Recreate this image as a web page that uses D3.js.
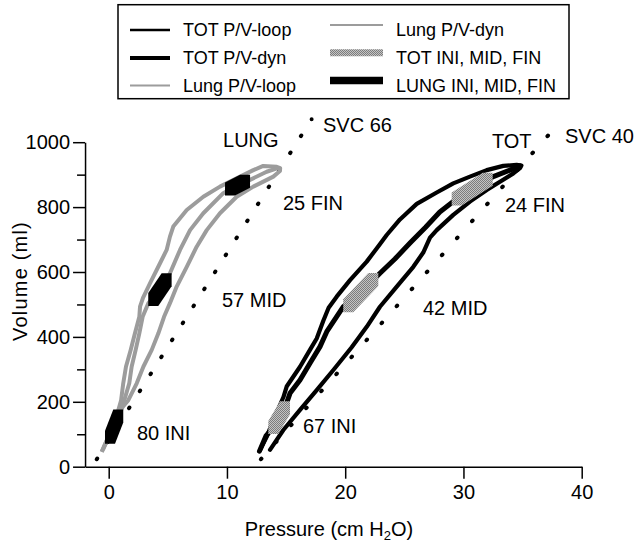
<!DOCTYPE html>
<html><head><meta charset="utf-8">
<script src="https://cdn.jsdelivr.net/npm/d3@7"></script>
<style>
body{margin:0;background:#fff;}
svg{display:block;font-family:"Liberation Sans",Arial,Helvetica,sans-serif;}
</style></head><body>
<svg id="chart" width="637" height="545"></svg>
<script>
// ---------- data ----------
const pressureTicks = [0, 10, 20, 30, 40];
const volumeTicks = [0,100,200,300,400,500,600,700,800,900,1000];
const volumeLabelTicks = [0,200,400,600,800,1000];

// Lung P/V loop (pressure cmH2O, volume ml): inflation limb up, deflation limb down
const lungLoop = [
  [-0.59,46],[0.0,95],[0.7,150],[1.2,185],[1.66,205],[2.37,257],[2.93,308],[3.64,360],
  [4.2,411],[4.68,462],[5.18,504],[5.75,555],[6.6,616],[7.44,678],[8.29,729],[9.41,781],
  [10.82,832],[12.23,863],[13.92,894],[14.48,911],[14.5,920],
  [14.21,924],[13.07,927],[12.23,914],[10.82,889],[9.41,863],[8.0,832],[6.6,791],
  [5.46,740],[5.18,709],[4.9,668],[4.34,627],[3.49,565],[2.9,520],[2.65,493],[2.59,462],
  [2.22,411],[1.86,360],[1.46,308],[1.23,257],[1.05,205],[0.7,160],[0.1,100],[-0.45,55],[-0.59,46]
];
const lungDyn = [
  [-0.59,46],[-0.14,82],[0.45,129],[1.04,181],[1.32,205],[1.74,257],[1.94,308],[2.28,360],
  [2.59,411],[2.87,462],[3.35,504],[4.34,548],[5.18,596],[6.03,668],[6.88,729],[8.0,781],
  [9.69,843],[10.89,868],[11.95,884],[13.36,909],[14.3,920]
];
const totLoop = [
  [13.64,52],[14.77,113],[16.18,175],[17.59,236],[19.0,298],[20.55,368],[21.82,431],
  [22.94,493],[24.36,555],[25.76,616],[26.6,660],[27.17,706],[27.74,729],[29.14,776],
  [30.55,817],[31.97,853],[33.09,878],[34.22,904],[34.78,920],[34.9,928],
  [34.5,930],[33.37,927],[31.97,914],[30.55,894],[29.14,873],[27.74,845],[26.05,810],
  [24.63,762],[23.51,714],[22.9,684],[22.5,665],[21.82,632],[20.41,575],[19.28,524],
  [18.6,490],[18.15,450],[17.59,395],[17.02,360],[16.18,308],[15.05,247],[14.77,214],
  [14.0,150],[13.36,92],[12.8,51]
];
const totDyn = [
  [12.75,48],[13.3,95],[13.92,121],[14.91,182],[15.33,226],[16.18,267],[17.02,319],
  [17.87,370],[18.44,416],[19.84,493],[21.3,536],[22.94,596],[24.2,640],[25.5,690],
  [26.8,738],[28.0,785],[29.14,817],[30.7,855],[32.52,894],[33.94,914],[34.78,927]
];
// INI, MID, FIN segments: [p0, v0, p1, v1]
const lungMarks = [[0.11,91,0.81,156],[3.77,515,4.9,576],[10.26,856,11.53,880]];
const totMarks  = [[13.92,121,14.91,182],[20.26,496,22.38,577],[29.43,825,32.05,886]];
// static volume-pressure lines (dotted)
const svcLung = [[-1.01,23],[17.16,1071]];
const svcTot  = [[12.87,23],[38.38,1071]];
const annotations = [
  {t:"LUNG",   p:9.67,  v:985},
  {t:"SVC 66", p:18.12, v:1031},
  {t:"25 FIN", p:14.74, v:791},
  {t:"57 MID", p:9.58,  v:492},
  {t:"80 INI", p:2.39,  v:82},
  {t:"TOT",    p:32.41, v:982},
  {t:"SVC 40", p:38.59, v:997},
  {t:"24 FIN", p:33.51, v:785},
  {t:"42 MID", p:26.58, v:468},
  {t:"67 INI", p:16.43, v:104}
];
const legendLeft  = ["TOT P/V-loop","TOT P/V-dyn","Lung P/V-loop"];
const legendRight = ["Lung P/V-dyn","TOT INI, MID, FIN","LUNG INI, MID, FIN"];

// ---------- drawing ----------
const svg = d3.select("#chart");
const defs = svg.append("defs");
function tex(id, light, dark){
  const p = defs.append("pattern").attr("id",id).attr("width",2).attr("height",2)
    .attr("patternUnits","userSpaceOnUse");
  p.append("rect").attr("width",2).attr("height",2).attr("fill",light);
  p.append("rect").attr("width",1).attr("height",1).attr("fill",dark);
  p.append("rect").attr("x",1).attr("y",1).attr("width",1).attr("height",1).attr("fill",dark);
}
tex("htex","#c4c4c4","#7c7c7c");
const GRAY = "#9c9c9c";

const x = d3.scaleLinear().domain([-2,40]).range([85.05,581.7]);
const y = d3.scaleLinear().domain([0,1000]).range([466.7,142.2]);

// axes
const xa = svg.append("g").attr("transform",`translate(0,${y(0)})`)
  .call(d3.axisBottom(x).tickValues(pressureTicks).tickSize(12).tickSizeOuter(0).tickPadding(6));
const ya = svg.append("g").attr("transform",`translate(${x(-2)},0)`)
  .call(d3.axisLeft(y).tickValues(volumeTicks).tickSize(12).tickSizeOuter(0).tickPadding(3)
    .tickFormat(d => volumeLabelTicks.includes(d) ? d : ""));
ya.selectAll(".tick line").attr("x2", d => volumeLabelTicks.includes(d) ? -12 : -8);
[xa,ya].forEach(a=>{
  a.select(".domain").attr("stroke","#000").attr("stroke-width",1.5);
  a.selectAll(".tick line").attr("stroke","#000").attr("stroke-width",1.5);
  a.selectAll(".tick text").attr("fill","#000").attr("font-size",20)
    .attr("font-family","Liberation Sans, Arial, sans-serif");
});

svg.append("text").attr("transform","translate(20,281) rotate(-90)")
  .attr("text-anchor","middle").attr("dominant-baseline","central")
  .attr("font-size",20).attr("letter-spacing",1.2).text("Volume (ml)");
const xl = svg.append("text").attr("x",329).attr("y",536).attr("text-anchor","middle")
  .attr("font-size",20);
xl.append("tspan").text("Pressure (cm H");
xl.append("tspan").attr("font-size",13).attr("dy",4).text("2");
xl.append("tspan").attr("dy",-4).text("O)");

const line = d3.line().x(d=>x(d[0])).y(d=>y(d[1]));

// dotted SVC lines
[svcLung, svcTot].forEach(s=>{
  const path = svg.append("path").attr("d",line(s)).attr("fill","none");
  const len = path.node().getTotalLength();
  const per = len/20;
  path.attr("stroke","#000").attr("stroke-width",4).attr("stroke-linecap","round")
    .attr("stroke-dasharray",`0.8 ${per-0.8}`);
});

// loops
svg.append("path").attr("d",line(lungLoop)).attr("fill","none")
  .attr("stroke",GRAY).attr("stroke-width",4).attr("stroke-linejoin","round");
svg.append("path").attr("d",line(lungDyn)).attr("fill","none")
  .attr("stroke",GRAY).attr("stroke-width",4).attr("stroke-linejoin","round");
svg.append("path").attr("d",line(totLoop)).attr("fill","none")
  .attr("stroke","#000").attr("stroke-width",4.2).attr("stroke-linejoin","round").attr("stroke-linecap","round");
svg.append("path").attr("d",line(totDyn)).attr("fill","none")
  .attr("stroke","#000").attr("stroke-width",5).attr("stroke-linejoin","round").attr("stroke-linecap","round");

// INI/MID/FIN hexagon marks
const hx=5, hy=6.5;
function hex(m){
  const ax=x(m[0]), ay=y(m[1]), bx=x(m[2]), by=y(m[3]);
  return [[ax-hx,ay-hy],[ax-hx,ay+hy],[ax+hx,ay+hy],[bx+hx,by+hy],[bx+hx,by-hy],[bx-hx,by-hy]]
    .map(p=>p.join(",")).join(" ");
}
svg.selectAll(".lm").data(lungMarks).enter().append("polygon").attr("points",hex).attr("fill","#000");
svg.selectAll(".tm").data(totMarks).enter().append("polygon").attr("points",hex).attr("fill","url(#htex)");

// annotations
svg.selectAll(".ann").data(annotations).enter().append("text")
  .attr("x",d=>x(d.p)).attr("y",d=>y(d.v)).attr("font-size",20).text(d=>d.t);

// legend
const lg = svg.append("g");
lg.append("rect").attr("x",118).attr("y",4.7).attr("width",451).attr("height",94)
  .attr("fill","#fff").attr("stroke","#000").attr("stroke-width",1.5);
const rowsL=[30,58,85.5], rowsR=[25,52.7,80.5], baseT=[36,64,91.5];
const leftStyles=[{s:"#000",w:2.7},{s:"#000",w:4},{s:GRAY,w:2.2}];
const rightStyles=[{s:GRAY,w:2},{s:"url(#htex)",w:7},{s:"#000",w:7.5}];
legendLeft.forEach((t,i)=>{
  lg.append("line").attr("x1",130).attr("x2",170).attr("y1",rowsL[i]).attr("y2",rowsL[i])
    .attr("stroke",leftStyles[i].s).attr("stroke-width",leftStyles[i].w);
  lg.append("text").attr("x",183).attr("y",baseT[i]).attr("font-size",18).text(t);
});
legendRight.forEach((t,i)=>{
  lg.append("line").attr("x1",330).attr("x2",383).attr("y1",rowsR[i]).attr("y2",rowsR[i])
    .attr("stroke",rightStyles[i].s).attr("stroke-width",rightStyles[i].w);
  lg.append("text").attr("x",396).attr("y",baseT[i]).attr("font-size",18).text(t);
});
</script>
</body></html>
